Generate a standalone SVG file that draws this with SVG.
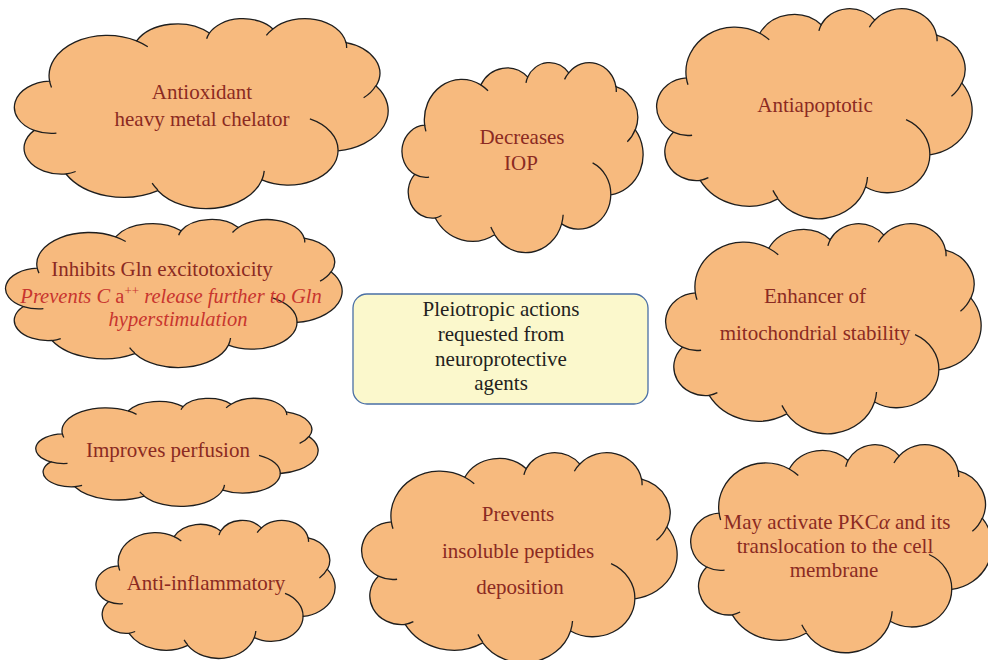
<svg xmlns="http://www.w3.org/2000/svg" xmlns:xlink="http://www.w3.org/1999/xlink" width="988" height="660" viewBox="0 0 988 660">
<style>
.co{fill:#F7BA7E;stroke:#1e1e1e;stroke-width:1.3;vector-effect:non-scaling-stroke}
.ci{fill:none;stroke:#1e1e1e;stroke-width:1.3;vector-effect:non-scaling-stroke}
.t{font-family:"Liberation Serif","Times New Roman",serif;font-size:21px;fill:#8B2A22;text-anchor:middle}
.it{font-family:"Liberation Serif","Times New Roman",serif;font-size:20.5px;fill:#C8352E;font-style:italic;text-anchor:middle}
.ct{font-family:"Liberation Serif","Times New Roman",serif;font-size:21px;fill:#231F20;text-anchor:middle}
.box{fill:#FBF8CC;stroke:#4A6FA5;stroke-width:1.3}
</style>
<defs>
<g id="cloud">
<path class="co" d="M 9.03 33.26 A 15.63 21.27 0 0 1 32.42 12.04 A 12.34 16.82 0 0 1 51.98 7.94 A 10.10 13.76 0 0 1 69.06 5.74 A 11.24 15.27 0 0 1 88.70 12.91 A 12.35 16.84 0 0 1 96.80 35.78 A 15.68 21.34 0 0 1 86.58 69.91 A 13.39 18.21 0 0 1 66.10 85.21 A 15.63 21.33 0 0 1 38.15 90.89 A 17.87 24.41 0 0 1 13.43 82.11 A 10.09 13.70 0 0 1 4.89 59.14 A 10.06 13.76 0 0 1 9.03 33.26 Z"/>
<path class="ci" d="M 10.86 60.59 A 10.06 13.76 0 0 1 4.89 59.14 M 16.04 80.79 A 10.09 13.70 0 0 1 13.43 82.11 M 38.14 90.49 A 15.63 21.33 0 0 1 36.60 86.86 M 66.73 80.44 A 15.63 21.33 0 0 1 66.10 85.21 M 79.00 53.13 A 13.39 18.21 0 0 1 86.58 69.91 M 96.75 35.54 A 12.35 16.84 0 0 1 93.45 41.98 M 88.71 12.56 A 11.24 15.27 0 0 1 88.87 15.83 M 67.31 9.15 A 11.24 15.27 0 0 1 69.06 5.74 M 51.25 10.93 A 10.10 13.76 0 0 1 51.98 7.94 M 32.41 12.02 A 15.63 21.27 0 0 1 35.43 15.16 M 9.55 36.55 A 15.63 21.27 0 0 1 9.03 33.26"/>
</g>
</defs>
<rect width="988" height="660" fill="#ffffff"/>
<g id="connectors"></g>
<g id="antioxidant">
<use xlink:href="#cloud" href="#cloud" transform="translate(16,18) scale(3.72,1.90)"/>
<text class="t" x="202" y="99">Antioxidant</text>
<text class="t" x="202" y="126">heavy metal chelator</text>
</g>
<g id="iop">
<use xlink:href="#cloud" href="#cloud" transform="translate(403,62) scale(2.40,1.90)"/>
<text class="t" x="522" y="144">Decreases</text>
<text class="t" x="521" y="170">IOP</text>
</g>
<g id="antiapoptotic">
<use xlink:href="#cloud" href="#cloud" transform="translate(658,8) scale(3.14,2.10)"/>
<text class="t" x="815" y="112">Antiapoptotic</text>
</g>
<g id="gln">
<use xlink:href="#cloud" href="#cloud" transform="translate(7,219) scale(3.35,1.48)"/>
<text class="t" x="162" y="276">Inhibits Gln excitotoxicity</text>
<text class="it" x="171" y="303">Prevents <tspan>C</tspan><tspan font-style="normal"> a</tspan><tspan font-style="normal" font-size="13" dy="-8">++</tspan><tspan dy="8"> release further to Gln</tspan></text>
<text class="it" x="178" y="326">hyperstimulation</text>
</g>
<g id="center">
<rect class="box" x="353" y="294" width="295" height="110" rx="14" ry="14"/>
<text class="ct" x="501" y="316">Pleiotropic actions</text>
<text class="ct" x="501" y="341">requested from</text>
<text class="ct" x="501" y="366">neuroprotective</text>
<text class="ct" x="501" y="390">agents</text>
</g>
<g id="enhancer">
<use xlink:href="#cloud" href="#cloud" transform="translate(667,223) scale(3.14,2.10)"/>
<text class="t" x="815" y="303">Enhancer of</text>
<text class="t" x="815" y="340">mitochondrial stability</text>
</g>
<g id="perfusion">
<use xlink:href="#cloud" href="#cloud" transform="translate(37,398) scale(2.81,1.08)"/>
<text class="t" x="168" y="457">Improves perfusion</text>
</g>
<g id="antiinflammatory">
<use xlink:href="#cloud" href="#cloud" transform="translate(97,520) scale(2.38,1.38)"/>
<text class="t" x="206" y="590">Anti-inflammatory</text>
</g>
<g id="prevents">
<use xlink:href="#cloud" href="#cloud" transform="translate(363,452) scale(3.14,2.10)"/>
<text class="t" x="518" y="521">Prevents</text>
<text class="t" x="518" y="558">insoluble peptides</text>
<text class="t" x="520" y="594">deposition</text>
</g>
<g id="pkc">
<use xlink:href="#cloud" href="#cloud" transform="translate(692,444) scale(3.00,2.08)"/>
<text class="t" x="837" y="529">May activate PKC<tspan font-style="italic">α</tspan>  and its</text>
<text class="t" x="835" y="553">translocation to the cell</text>
<text class="t" x="834" y="577">membrane</text>
</g>
</svg>
